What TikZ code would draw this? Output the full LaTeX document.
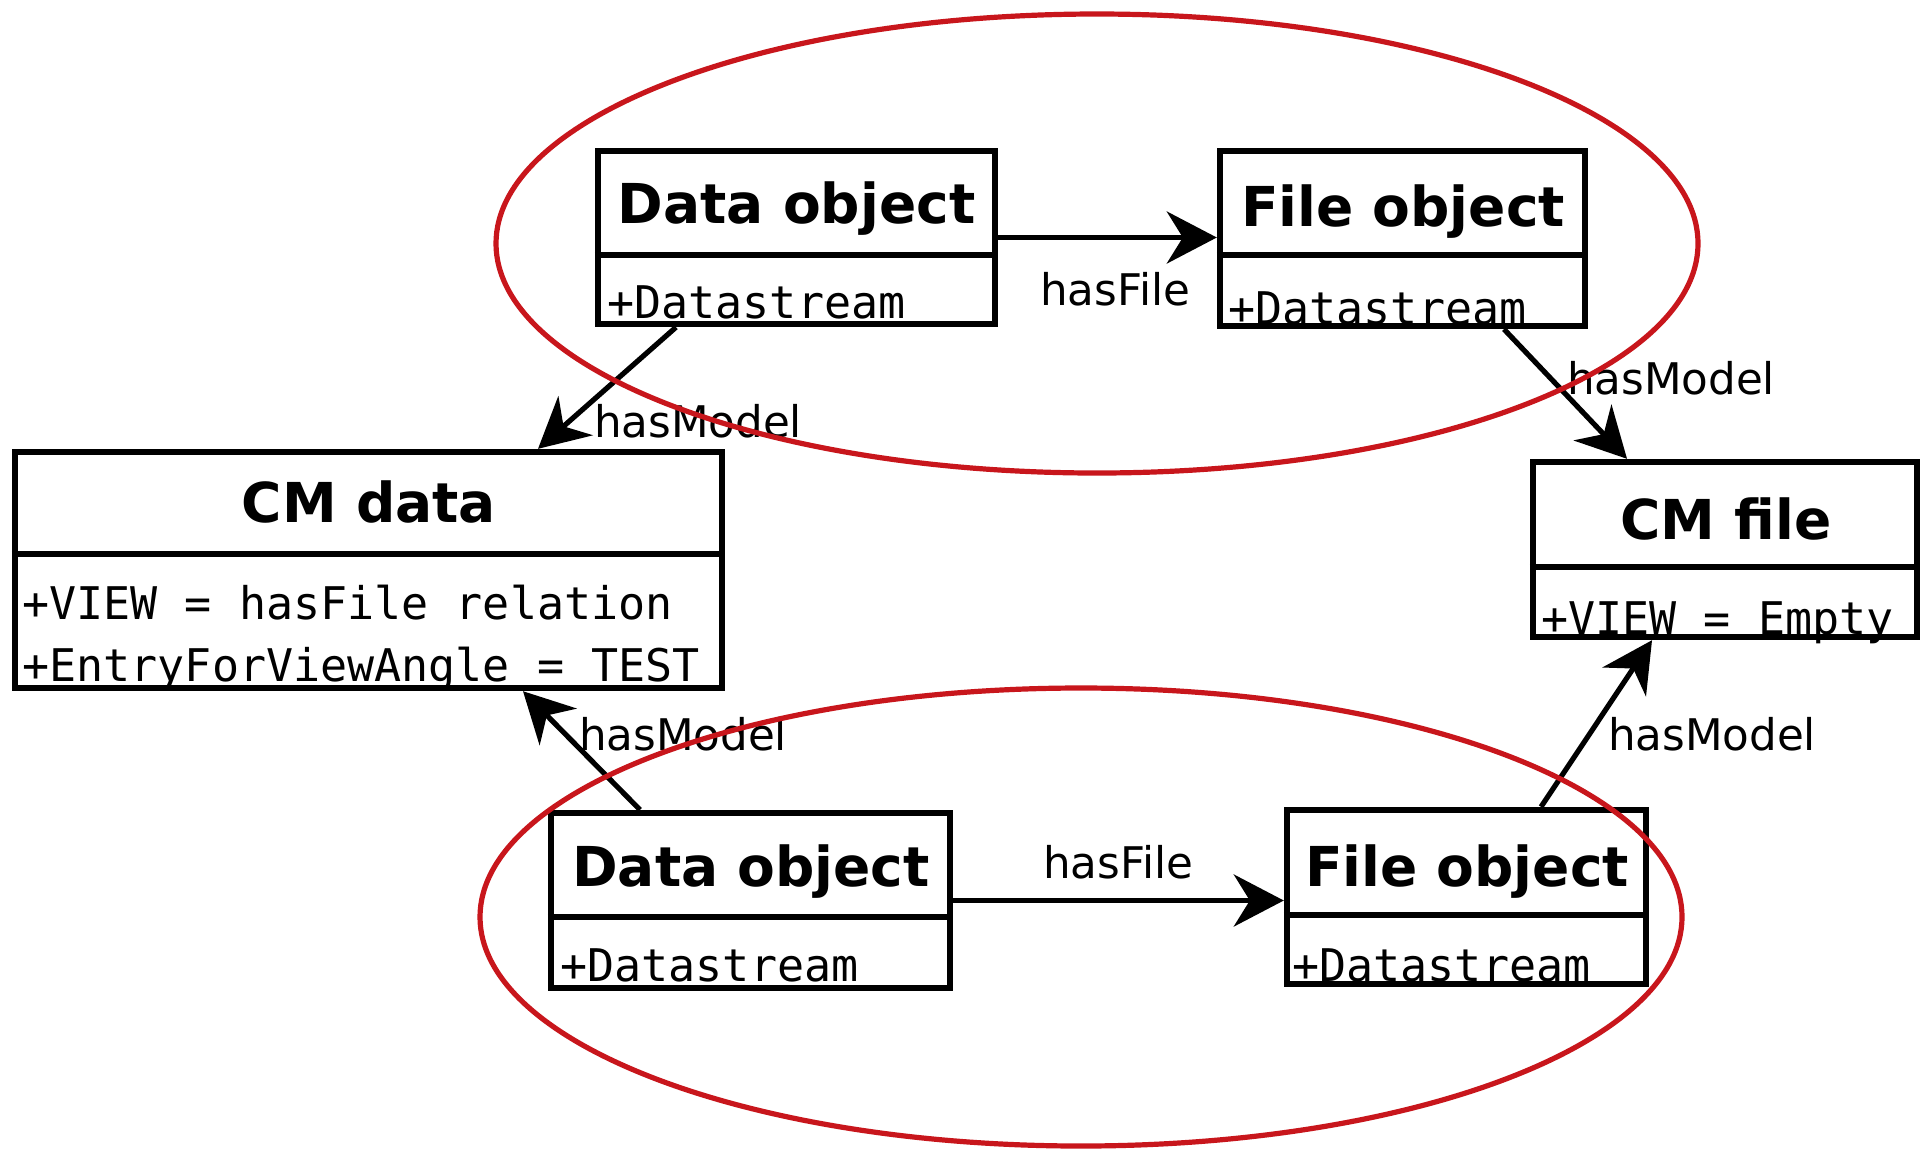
\documentclass[tikz,border=0pt]{standalone}
\usepackage{fontspec}
\newfontfamily\sansfam{DejaVu Sans}
\newfontfamily\monofam{DejaVu Sans Mono}
\usetikzlibrary{arrows.meta}
\definecolor{ringred}{RGB}{200,22,28}

\tikzset{
  umlbox/.style={draw=black, line width=3.2pt, inner sep=0pt},
  divider/.style={line width=3.2pt},
  ttl/.style={font=\sansfam\bfseries\fontsize{27.5pt}{30pt}\selectfont, anchor=base, inner sep=0pt},
  attr/.style={font=\monofam\fontsize{22.5pt}{25pt}\selectfont, anchor=base west, inner sep=0pt},
  lbl/.style={font=\sansfam\fontsize{21.8pt}{24pt}\selectfont, anchor=base, inner sep=0pt},
  arr/.style={line width=2.6pt, -{Stealth[length=25pt,width=26pt,inset=8pt]}},
  ring/.style={draw=ringred, line width=2.6pt},
}

\begin{document}
\begin{tikzpicture}[x=0.5pt, y=-0.5pt]
  \useasboundingbox[fill=white] (0,0) rectangle (1930,1148);

  % class boxes
  \node[umlbox, minimum width=198.5pt, minimum height=86.5pt] (d1) at (796.5,237.5) {};
  \node[umlbox, minimum width=182.5pt, minimum height=87.5pt] (f1) at (1402.5,238.5) {};
  \node[umlbox, minimum width=353.5pt, minimum height=118pt] (cmd) at (368.5,570) {};
  \node[umlbox, minimum width=192pt, minimum height=87.5pt] (cmf) at (1725,549.5) {};
  \node[umlbox, minimum width=199.5pt, minimum height=87.5pt] (d2) at (750.5,900.5) {};
  \node[umlbox, minimum width=179.5pt, minimum height=87pt] (f2) at (1466.5,897) {};

  % compartment dividers
  \draw[divider] (d1.west |- 0,255) -- (d1.east |- 0,255);
  \draw[divider] (f1.west |- 0,255) -- (f1.east |- 0,255);
  \draw[divider] (cmd.west |- 0,554) -- (cmd.east |- 0,554);
  \draw[divider] (cmf.west |- 0,567) -- (cmf.east |- 0,567);
  \draw[divider] (d2.west |- 0,917) -- (d2.east |- 0,917);
  \draw[divider] (f2.west |- 0,915) -- (f2.east |- 0,915);

  % titles
  \node[ttl] (d1t) at (796.5,223) {Data object};
  \node[ttl] (f1t) at (1403,226) {File object};
  \node[ttl] (cmdt) at (369,522) {CM data};
  \node[ttl] (cmft) at (1726,539) {CM file};
  \node[ttl] (d2t) at (751,886) {Data object};
  \node[ttl] (f2t) at (1467,886) {File object};

  % attributes
  \node[attr] (d1a) at (607,318) {+Datastream};
  \node[attr] (f1a) at (1228,324) {+Datastream};
  \node[attr] (cmda) at (22,619) {+VIEW = hasFile relation};
  \node[attr] (cmdb) at (22,681) {+EntryForViewAngle = TEST};
  \node[attr] (cmfa) at (1541,634) {+VIEW = Empty};
  \node[attr] (d2a) at (560,981) {+Datastream};
  \node[attr] (f2a) at (1292,981) {+Datastream};

  % relations
  \draw[arr] ([xshift=-60.25pt]d1.south) -- ([xshift=84.75pt]cmd.north);
  \draw[arr] (d1.east) -- (d1.east -| f1.west);
  \draw[arr] ([xshift=50.75pt]f1.south) -- ([xshift=-49pt]cmf.north);
  \draw[arr] ([xshift=-55.25pt]d2.north) -- ([xshift=77.25pt]cmd.south);
  \draw[arr] (d2.east) -- (d2.east -| f2.west);
  \draw[arr] ([xshift=37.25pt]f2.north) -- ([xshift=-36.5pt]cmf.south);

  % relation labels
  \node[lbl] (l1) at (1115,305) {hasFile};
  \node[lbl] (l2) at (698,437) {hasModel};
  \node[lbl] (l3) at (1671,394) {hasModel};
  \node[lbl] (l4) at (683,750) {hasModel};
  \node[lbl] (l5) at (1118,878) {hasFile};
  \node[lbl] (l6) at (1712,750) {hasModel};

  % highlight rings
  \draw[ring] (1097,243.5) ellipse [x radius=300.5pt, y radius=114.75pt];
  \draw[ring] (1081,917) ellipse [x radius=300.5pt, y radius=114.5pt];
\end{tikzpicture}
\end{document}
